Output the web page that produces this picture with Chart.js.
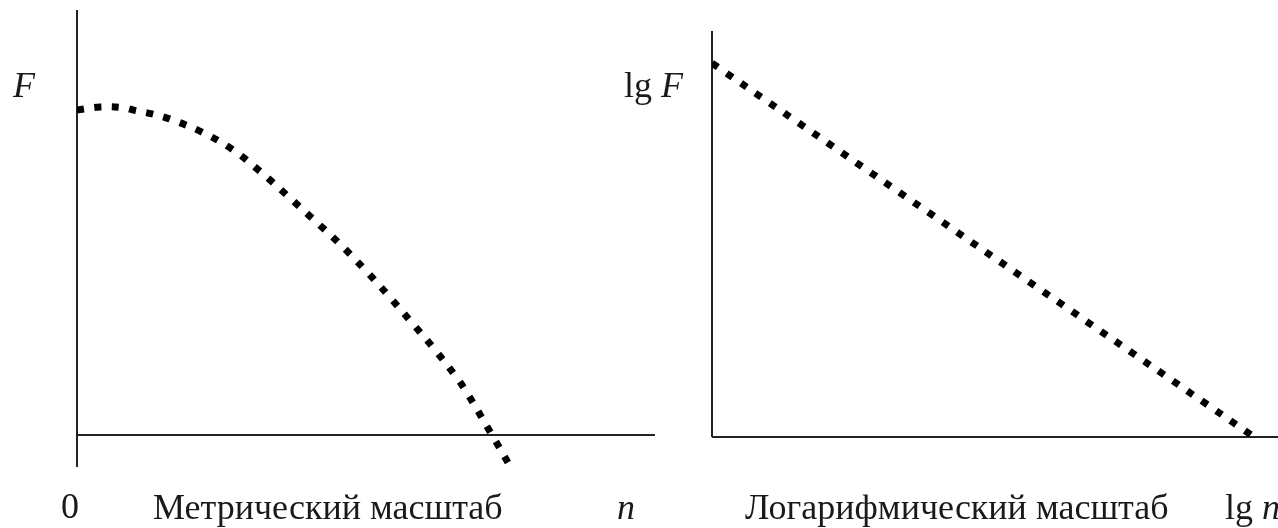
<!DOCTYPE html>
<html>
<head>
<meta charset="utf-8">
<script src="https://cdn.jsdelivr.net/npm/chart.js@4.4.1/dist/chart.umd.min.js"></script>
<style>
  html, body { margin: 0; padding: 0; background: #fff; }
  #wrap { position: relative; width: 1278px; height: 528px; overflow: hidden; }
  canvas { position: absolute; left: 0; top: 0; }
  .lbl { position: absolute; font-family: "Liberation Serif", "Times New Roman", serif;
         font-size: 36px; line-height: 36px; color: #1a1a1a; white-space: nowrap; }
  .it { font-style: italic; }
</style>
</head>
<body>
<div id="wrap">
  <canvas id="metric" width="1278" height="528"></canvas>
  <canvas id="logscale" width="1278" height="528"></canvas>
  <div class="lbl it" style="left:13px; top:67px;">F</div>
  <div class="lbl" style="left:61px; top:488px;">0</div>
  <div class="lbl" style="left:153px; top:489px;">Метрический масштаб</div>
  <div class="lbl it" style="left:617px; top:489px;">n</div>
  <div class="lbl" style="left:624px; top:67px;">lg <span class="it">F</span></div>
  <div class="lbl" style="left:745px; top:489px;">Логарифмический масштаб</div>
  <div class="lbl" style="left:1225px; top:489px;">lg <span class="it">n</span></div>
</div>
<script>
// Metric scale: force F against n
const metricN = [0, 4, 8, 10, 13, 16, 21.6, 27, 31.8, 36.3, 40.8, 45.3, 49.7, 53.8, 58, 61.8, 65.6, 67.5, 71.8, 75];
const metricF = [98.5, 99.4, 99.2, 98.4, 97.3, 95.8, 91.8, 86.4, 79.7, 72.7, 65.5, 58.2, 50.3, 42.4, 33.9, 26.1, 17.6, 12.7, 0, -9.7];

// Logarithmic scale: lg F against lg n
const logN = [0, 95.8];
const logF = [100, 0];

// Axis ranges (in data units)
const metricXRange = [0, 100];
const metricYRange = [-9.7, 128.8];
const logXRange = [0, 100];
const logYRange = [0, 108.6];

const INK = '#222';

// Only the zero line of each scale is drawn, acting as the coordinate axis
function axisAtZero(min, max) {
  return {
    type: 'linear', min, max,
    afterBuildTicks: (scale) => { scale.ticks = [{ value: 0 }]; },
    ticks: { display: false },
    border: { display: false },
    grid: { drawTicks: false, color: INK, lineWidth: 2 }
  };
}

function dottedChart(id, xs, ys, xr, yr, padding) {
  return new Chart(document.getElementById(id), {
    type: 'line',
    data: {
      datasets: [{
        data: xs.map((x, i) => ({ x, y: ys[i] })),
        borderColor: '#000',
        borderWidth: 7,
        borderDash: [7, 10.5],
        borderCapStyle: 'butt',
        pointRadius: 0,
        tension: 0.4,
        fill: false
      }]
    },
    options: {
      responsive: false,
      animation: false,
      devicePixelRatio: 1,
      layout: { padding },
      plugins: { legend: { display: false }, tooltip: { enabled: false } },
      scales: {
        x: axisAtZero(xr[0], xr[1]),
        y: axisAtZero(yr[0], yr[1])
      }
    }
  });
}

dottedChart('metric', metricN, metricF, metricXRange, metricYRange,
  { left: 77, top: 10, right: 623, bottom: 61 });
dottedChart('logscale', logN, logF, logXRange, logYRange,
  { left: 712, top: 31, right: 0, bottom: 91 });
</script>
</body>
</html>
